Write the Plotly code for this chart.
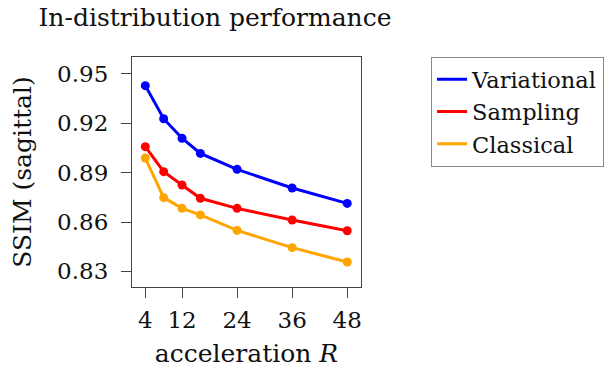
import plotly.graph_objects as go

R = [4, 8, 12, 16, 24, 36, 48]
variational = [0.9429, 0.9228, 0.9109, 0.9017, 0.8920, 0.8807, 0.8713]
sampling = [0.9058, 0.8906, 0.8825, 0.8744, 0.8683, 0.8612, 0.8547]
classical = [0.8989, 0.8748, 0.8683, 0.8643, 0.8549, 0.8444, 0.8357]
x_ticks = [4, 12, 24, 36, 48]
y_ticks = [0.83, 0.86, 0.89, 0.92, 0.95]

FONT = "DejaVu Serif"
series = [("Variational", variational, "#0000ff"),
          ("Sampling", sampling, "#ff0000"),
          ("Classical", classical, "#ffa500")]
fig = go.Figure()
for name, ys, col in series:
    fig.add_trace(go.Scatter(x=R, y=ys, name=name, mode="lines+markers",
                             line=dict(color=col, width=3),
                             marker=dict(color=col, size=9), showlegend=False))
for name, ys, col in series:
    fig.add_trace(go.Scatter(x=[None], y=[None], name=name, mode="lines",
                             line=dict(color=col, width=3), showlegend=True))

axis_common = dict(showline=True, mirror=True, linecolor="#444", linewidth=1.2,
                   ticks="outside", ticklen=10, tickcolor="#444", tickwidth=1.2,
                   showgrid=False, zeroline=False, automargin=False,
                   tickfont=dict(family=FONT, size=23, color="#111"))
fig.update_xaxes(range=[1.1, 51.0], tickvals=x_ticks, ticktext=[str(v) for v in x_ticks],
                 ticklabelstandoff=2,
                 title=dict(text="acceleration <i>R</i>", font=dict(family=FONT, size=25, color="#111"), standoff=12),
                 **axis_common)
fig.update_yaxes(range=[0.8205, 0.9603], tickvals=y_ticks, ticktext=[f"{v:.2f}" for v in y_ticks],
                 ticklabelstandoff=8,
                 title=dict(text="SSIM (sagittal)", font=dict(family=FONT, size=25, color="#111"), standoff=18),
                 **axis_common)

fig.update_layout(
    width=610, height=371,
    margin=dict(l=132, r=249, t=57, b=84, autoexpand=False),
    paper_bgcolor="white", plot_bgcolor="white",
    font=dict(family=FONT, color="#111"),
    title=dict(text="In-distribution performance", x=215/610, xanchor="center",
               y=1 - 17/371, yanchor="middle",
               font=dict(family=FONT, size=25, color="#111")),
    legend=dict(x=1.305, y=1.0, xanchor="left", yanchor="top",
                bordercolor="#888", borderwidth=1.2,
                font=dict(family=FONT, size=22.5, color="#111"),
                itemwidth=30, tracegroupgap=0),
    showlegend=True,
)
fig.write_html("out.html")
